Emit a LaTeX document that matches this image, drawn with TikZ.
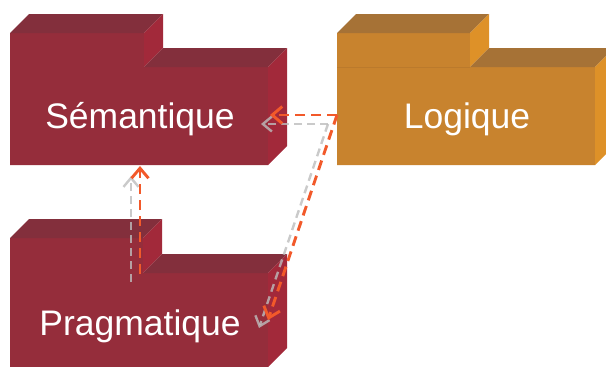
\documentclass[tikz,border=0pt]{standalone}
\usepackage{fontspec}
\setmainfont{Liberation Sans}
\usetikzlibrary{arrows.meta}

% face colours of the packages: F = front, T = top, S = side
\definecolor{semF}{HTML}{952D3B}
\definecolor{semT}{HTML}{832F3C}
\definecolor{semS}{HTML}{A2293A}
\definecolor{logF}{HTML}{C8832E}
\definecolor{logT}{HTML}{A67236}
\definecolor{logS}{HTML}{DE9128}
\definecolor{logSeam}{HTML}{BB7A2C}
\definecolor{depOrange}{HTML}{F2592A}
\definecolor{depGray}{HTML}{BDBDBD}

% 3D package folder: x0, y of tab top, x of tab right, y of body top,
% x of body right, y of bottom, colour prefix
\newcommand\pkgshape[7]{%
  \fill[#7F] (#1,#2) -- (#3,#2) -- (#3,#4) -- (#5,#4) -- (#5,#6) -- (#1,#6) -- cycle;
  \fill[#7T] (#1,#2) -- ({#1+19},{#2-19}) -- ({#3+19},{#2-19}) -- (#3,#2) -- cycle;
  \fill[#7S] (#3,#2) -- ({#3+19},{#2-19}) -- ({#3+19},{#4-19}) -- (#3,#4) -- cycle;
  \fill[#7T] (#3,#4) -- ({#3+19},{#4-19}) -- ({#5+19},{#4-19}) -- (#5,#4) -- cycle;
  \fill[#7S] (#5,#4) -- ({#5+19},{#4-19}) -- ({#5+19},{#6-19}) -- (#5,#6) -- cycle;
}

\tikzset{
  pkglabel/.style={text=white, font=\fontsize{35.5}{40}\selectfont, inner sep=0pt, anchor=base},
  deporange/.style={draw=depOrange, line width=2.9pt, dash pattern=on 10pt off 6pt,
    -{Straight Barb[length=10pt,width=17pt,line width=2.9pt]}},
  depgray/.style={draw=depGray, opacity=0.8, line width=2.4pt, dash pattern=on 8pt off 5pt,
    -{Straight Barb[length=9pt,width=15pt,line width=2.4pt]}},
}

\begin{document}
\begin{tikzpicture}[x=1pt, y=-1pt]
  \useasboundingbox (0,0) rectangle (606,367);
  \begin{scope}
    \clip (0,0) rectangle (606,367);
    \pkgshape{10}{33}{144}{67}{268}{165}{sem}
    \pkgshape{337}{33}{470}{67}{595}{165}{log}
    \draw[logSeam, line width=0.8pt] (337,67) -- (470,67);
    \pkgshape{10}{238}{143}{273}{268}{367}{sem}
  \end{scope}

  \node[pkglabel] (sem)  at (140,128) {Sémantique};
  \node[pkglabel] (log)  at (467,128) {Logique};
  \node[pkglabel] (prag) at (140,335) {Pragmatique};

  % connector end points on the package outlines
  \coordinate (logO)  at (337,115);
  \coordinate (semO)  at (270,115);
  \coordinate (pragO) at (268,320);
  \coordinate (pragTopO) at (140,274);
  \coordinate (semBotO)  at (140,166);
  \coordinate (logG)  at (328,124);
  \coordinate (semG)  at (261,124);
  \coordinate (pragG) at (259,328);
  \coordinate (pragTopG) at (131,282);
  \coordinate (semBotG)  at (131,176);

  \draw[depgray] (logG) -- (semG);
  \draw[depgray] (logG) -- (pragG);
  \draw[depgray] (pragTopG) -- (semBotG);

  \draw[deporange] (logO) -- (semO);
  \draw[deporange] (logO) -- (pragO);
  \draw[deporange] (pragTopO) -- (semBotO);
\end{tikzpicture}
\end{document}
